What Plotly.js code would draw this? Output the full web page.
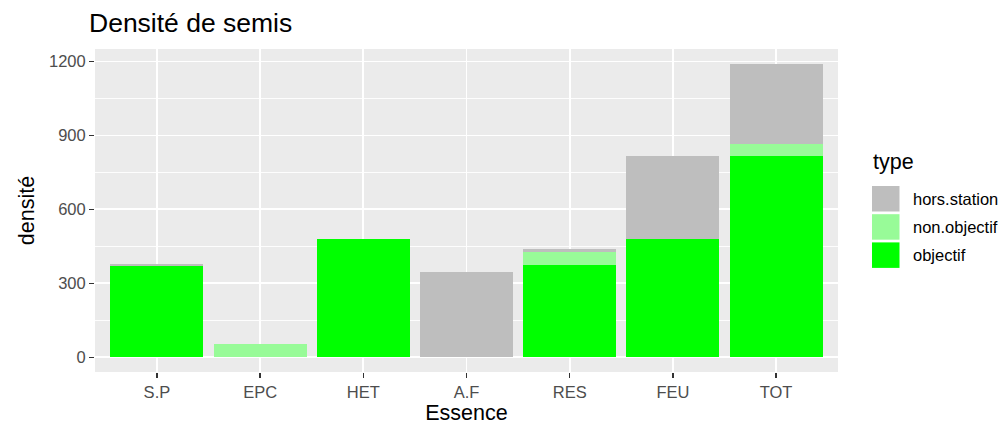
<!DOCTYPE html>
<html><head><meta charset="utf-8">
<script src="https://cdn.plot.ly/plotly-3.0.1.min.js"></script>
<style>html,body{margin:0;padding:0;background:#fff}#c{width:1005px;height:427px}</style>
</head><body><div id="c"></div>
<script>
const categories = ["S.P","EPC","HET","A.F","RES","FEU","TOT"];
const objectif     = [372, 0, 478, 0, 374, 478, 816];
const nonObjectif  = [0, 54, 0, 0, 53, 0, 50];
const horsStation  = [6, 0, 0, 348, 11, 339, 325];
const yTicks = [0, 300, 600, 900, 1200];
const seriesNames = ["objectif", "non.objectif", "hors.station"];
const seriesColors = ["#00FF00", "#98FB98", "#BEBEBE"];
const seriesValues = [objectif, nonObjectif, horsStation];

const W = 1005, H = 427, M = {l:95, r:167, t:49, b:55};
const pw = W - M.l - M.r, ph = H - M.t - M.b;
const px = x => (x - M.l) / pw;
const py = y => (H - M.b - y) / ph;

const data = seriesNames.map((name, i) => ({
  type:'bar', name, x:categories, y:seriesValues[i], width:0.9,
  marker:{color:seriesColors[i], line:{width:0}}, showlegend:false
}));

// custom ggplot-style legend (top entry = last stacked series)
const shapes = [], annotations = [];
const order = [2, 1, 0];
order.forEach((si, k) => {
  const top = 186 + k * 28.2;
  shapes.push({type:'rect', xref:'paper', yref:'paper', x0:px(872), x1:px(899.5),
    y0:py(top + 25.5), y1:py(top), fillcolor:seriesColors[si], line:{width:0}, layer:'above'});
  annotations.push({xref:'paper', yref:'paper', x:px(911), y:py(top + 12.7), xanchor:'left',
    yanchor:'middle', showarrow:false, text:seriesNames[si], font:{size:16.5, color:'#000'}});
});
annotations.push({xref:'paper', yref:'paper', x:px(871), y:py(162), xanchor:'left', yanchor:'middle',
  showarrow:false, text:'type', font:{size:21.5, color:'#000'}});

const layout = {
  width:W, height:H, barmode:'stack', bargap:0.1,
  paper_bgcolor:'#fff', plot_bgcolor:'#EBEBEB',
  margin:M,
  font:{family:'Liberation Sans, Arial, sans-serif', color:'#4D4D4D'},
  title:{text:'Densité de semis', x:89/W, xanchor:'left', y:1-23/H, yanchor:'middle',
    font:{size:26.5, color:'#000'}},
  xaxis:{type:'category', range:[-0.6,6.6], showgrid:true, gridcolor:'#fff', gridwidth:1.8,
    ticks:'outside', ticklen:5, tickwidth:1.5, tickcolor:'#333', tickfont:{size:16.5, color:'#4D4D4D'},
    title:{text:'Essence', font:{size:21.5, color:'#000'}, standoff:4}, zeroline:false, fixedrange:true},
  yaxis:{range:[-59.6,1250.6], tickvals:yTicks, ticktext:yTicks.map(String), showgrid:true,
    gridcolor:'#fff', gridwidth:1.8, zeroline:false, ticks:'outside', ticklen:5, tickwidth:1.5, tickcolor:'#333',
    tickfont:{size:16.5, color:'#4D4D4D'},
    minor:{tickvals:[150,450,750,1050], showgrid:true, gridcolor:'#fff', gridwidth:0.9, ticks:''},
    title:{text:'densité', font:{size:21.5, color:'#000'}, standoff:8}},
  shapes, annotations,
  showlegend:false
};
Plotly.newPlot('c', data, layout, {displayModeBar:false, staticPlot:true});
</script></body></html>
